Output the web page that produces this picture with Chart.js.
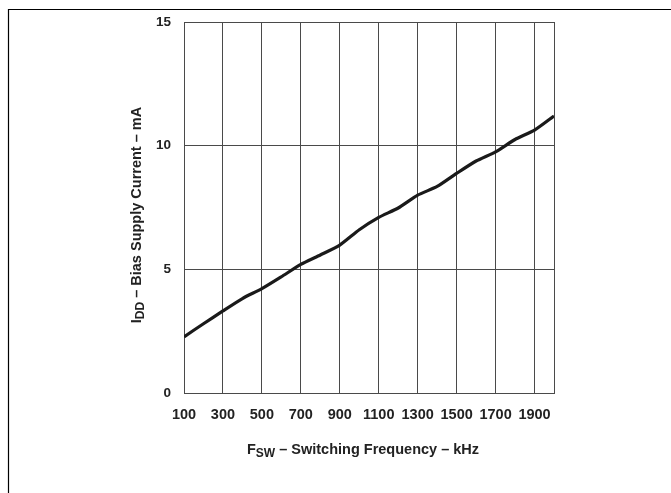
<!DOCTYPE html>
<html lang="en">
<head>
    <meta charset="UTF-8">
    <title>Bias Supply Current vs Switching Frequency</title>
    <script src="https://cdn.jsdelivr.net/npm/chart.js"></script>
    <style>
        html, body { margin: 0; padding: 0; background: #fff; }
        #wrap { width: 671px; height: 493px; position: relative; }
    </style>
</head>
<body>
    <div id="wrap">
        <canvas id="iddChart" width="671" height="493"></canvas>
    </div>

    <script>
        // data (kHz, mA)
        var freqKHz = [100, 200, 300, 400, 500, 600, 700, 800, 900, 1000,
                       1100, 1200, 1300, 1400, 1500, 1600, 1700, 1800, 1900, 2000];
        var iddMA = [2.27, 2.8, 3.32, 3.82, 4.22, 4.7, 5.2, 5.58, 5.98, 6.6,
                     7.1, 7.48, 8.0, 8.35, 8.88, 9.38, 9.75, 10.25, 10.63, 11.2];

        // grid / tick positions
        var xTicks = [100, 300, 500, 700, 900, 1100, 1300, 1500, 1700, 1900, 2000];
        var xTickLabels = ['100', '300', '500', '700', '900', '1100', '1300', '1500', '1700', '1900', ''];
        var yTicks = [0, 5, 10, 15];

        var xTitle = [['F', false], ['SW', true], [' \u2013 Switching Frequency \u2013 kHz', false]];
        var yTitle = [['I', false], ['DD', true], [' \u2013 Bias Supply Current \u2013 mA', false]];

        var FONT = '"Liberation Sans", Arial, sans-serif';

        function drawRich(ctx, parts, cx, cy, size) {
            var big = 'bold ' + size + 'px ' + FONT;
            var small = 'bold ' + Math.round(size * 0.8) + 'px ' + FONT;
            var w = 0;
            parts.forEach(function(p) {
                ctx.font = p[1] ? small : big;
                w += ctx.measureText(p[0]).width;
            });
            var x = cx - w / 2;
            ctx.textBaseline = 'alphabetic';
            ctx.textAlign = 'left';
            parts.forEach(function(p) {
                ctx.font = p[1] ? small : big;
                ctx.fillText(p[0], x, cy + (p[1] ? 3 : 0));
                x += ctx.measureText(p[0]).width;
            });
        }

        // frame + axis titles
        var decorPlugin = {
            id: 'decor',
            afterDraw: function(chart) {
                var ctx = chart.ctx;
                var area = chart.chartArea;
                ctx.save();
                ctx.strokeStyle = '#000';
                ctx.lineWidth = 1.2;
                ctx.beginPath();
                ctx.moveTo(8.5, 493);
                ctx.lineTo(8.5, 9.5);
                ctx.lineTo(671, 9.5);
                ctx.stroke();

                ctx.fillStyle = '#222';
                drawRich(ctx, xTitle, 363, 454, 14.5);

                ctx.translate(141, 215);
                ctx.rotate(-Math.PI / 2);
                drawRich(ctx, yTitle, 0, 0, 14.5);
                ctx.restore();
            }
        };

        var ctx = document.getElementById('iddChart').getContext('2d');
        var iddChart = new Chart(ctx, {
            type: 'scatter',
            data: {
                datasets: [{
                    data: freqKHz.map(function(f, i) { return { x: f, y: iddMA[i] }; }),
                    showLine: true,
                    borderColor: '#1a1a1a',
                    borderWidth: 3.2,
                    pointRadius: 0,
                    tension: 0.2,
                    fill: false
                }]
            },
            options: {
                responsive: false,
                animation: false,
                layout: { padding: { left: 0, top: 22, right: 117, bottom: 0 } },
                plugins: {
                    legend: { display: false },
                    tooltip: { enabled: false }
                },
                scales: {
                    x: {
                        type: 'linear',
                        min: 100,
                        max: 2000,
                        afterBuildTicks: function(scale) {
                            scale.ticks = xTicks.map(function(v) { return { value: v }; });
                        },
                        afterFit: function(scale) { scale.height = 100; },
                        ticks: {
                            autoSkip: false,
                            maxRotation: 0,
                            padding: 13,
                            color: '#222',
                            font: { family: FONT, size: 14.5, weight: 'bold' },
                            callback: function(v) { return xTickLabels[xTicks.indexOf(v)]; }
                        },
                        grid: { color: '#4a4a4a', lineWidth: 1, drawTicks: false },
                        border: { color: '#4a4a4a', width: 1 }
                    },
                    y: {
                        min: 0,
                        max: 15,
                        afterBuildTicks: function(scale) {
                            scale.ticks = yTicks.map(function(v) { return { value: v }; });
                        },
                        afterFit: function(scale) { scale.width = 184; },
                        ticks: {
                            padding: 13,
                            color: '#222',
                            font: { family: FONT, size: 13.5, weight: 'bold' }
                        },
                        grid: { color: '#4a4a4a', lineWidth: 1, drawTicks: false },
                        border: { color: '#4a4a4a', width: 1 }
                    }
                }
            },
            plugins: [decorPlugin]
        });
    </script>
</body>
</html>
